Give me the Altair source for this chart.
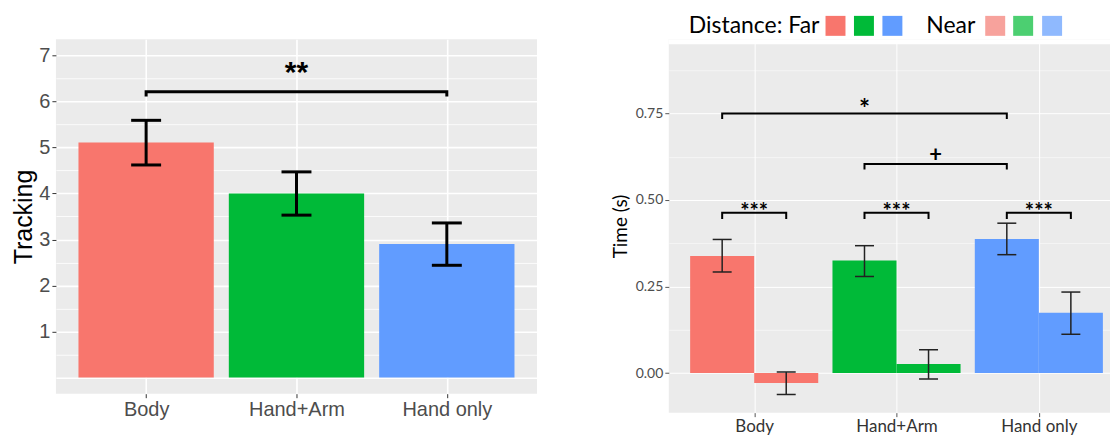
import json
import altair as alt
import pandas as pd

# ---------------- data ----------------
groups = ["Body", "Hand+Arm", "Hand only"]
far_colors = ["#F8766D", "#00BA38", "#619CFF"]
near_colors = ["#F7A29C", "#4CCF71", "#8FB9FE"]

# left panel: Tracking
track_mean = [5.11, 4.00, 2.90]
track_low = [4.62, 3.53, 2.44]
track_high = [5.59, 4.47, 3.36]

# right panel: Time (s)
time_far = [0.338, 0.325, 0.387]
time_far_low = [0.292, 0.279, 0.342]
time_far_high = [0.386, 0.368, 0.433]
time_near = [-0.029, 0.026, 0.174]
time_near_low = [-0.062, -0.017, 0.112]
time_near_high = [0.003, 0.067, 0.234]

# significance annotations
left_sig_from = ["Body"]
left_sig_to = ["Hand only"]
left_sig_y = [6.21]
left_sig_text = ["**"]

right_cross_from = ["Body", "Hand+Arm"]
right_cross_to = ["Hand only", "Hand only"]
right_cross_y = [0.75, 0.604]
right_cross_text = ["*", "+"]

right_within_y = [0.463, 0.463, 0.463]
right_within_text = ["***", "***", "***"]

legend_title = "Distance:"
legend_labels = ["Far", "Near"]

# ---------------- helpers ----------------
pos = {g: i + 1 for i, g in enumerate(groups)}
label_expr = json.dumps(groups) + "[datum.value - 1]"

LEFT_FONT = "Liberation Sans"
RIGHT_FONT = "Lato"

# ---------------- left chart ----------------
left_df = pd.DataFrame({
    "group": groups,
    "pos": [pos[g] for g in groups],
    "mean": track_mean,
    "low": track_low,
    "high": track_high,
})
left_df["x1"] = left_df["pos"] - 0.45
left_df["x2"] = left_df["pos"] + 0.45

lx_scale = alt.Scale(domain=[0.4, 3.6], nice=False, zero=False)
ly_scale = alt.Scale(domain=[-0.35, 7.35], nice=False, zero=False)

lx_axis = alt.Axis(values=[1, 2, 3], labelExpr=label_expr, title=None, grid=True,
                   gridColor="white", gridWidth=1.6, domain=False, tickSize=4,
                   tickColor="#333333", tickWidth=1, labelFont=LEFT_FONT,
                   labelFontSize=20, labelColor="#4D4D4D", labelPadding=2)
ly_axis = alt.Axis(values=[v * 0.5 for v in range(0, 15)],
                   labelExpr="(datum.value % 1 == 0 && datum.value > 0) ? format(datum.value, 'd') : ''",
                   title="Tracking", titleFont=LEFT_FONT, titleFontSize=25,
                   titleFontWeight="normal", titleColor="black", titlePadding=2,
                   grid=True, gridColor="white",
                   gridWidth=alt.condition("datum.value % 1 != 0", alt.value(0.8), alt.value(1.6)),
                   tickOpacity=alt.condition("datum.value % 1 != 0 || datum.value == 0", alt.value(0), alt.value(1)),
                   domain=False, tickSize=4, tickColor="#333333", tickWidth=1,
                   labelFont=LEFT_FONT, labelFontSize=20, labelColor="#4D4D4D",
                   labelPadding=2)

left_color = alt.Color("group:N", scale=alt.Scale(domain=groups, range=far_colors), legend=None)

left_bars = alt.Chart(left_df).mark_rect().encode(
    x=alt.X("x1:Q", scale=lx_scale, axis=lx_axis),
    x2="x2:Q",
    y=alt.Y("mean:Q", scale=ly_scale, axis=ly_axis),
    y2=alt.datum(0),
    color=left_color,
)
left_err = alt.Chart(left_df).mark_rule(color="black", strokeWidth=3).encode(
    x=alt.X("pos:Q", scale=lx_scale, axis=lx_axis),
    y=alt.Y("low:Q", scale=ly_scale, axis=ly_axis),
    y2="high:Q",
)
left_caps = alt.Chart(left_df).transform_fold(["low", "high"], as_=["k", "v"]).mark_tick(
    color="black", orient="horizontal", size=30, thickness=3, opacity=1
).encode(
    x=alt.X("pos:Q", scale=lx_scale, axis=lx_axis),
    y=alt.Y("v:Q", scale=ly_scale, axis=ly_axis),
)


def bracket_rows(starts, ends, ys, drop, offset_a=0.0, offset_b=0.0):
    rows = []
    for i, (a, b, y) in enumerate(zip(starts, ends, ys)):
        xa = pos[a] + offset_a
        xb = pos[b] + offset_b
        rows += [
            {"id": i, "o": 0, "x": xa, "y": y - drop},
            {"id": i, "o": 1, "x": xa, "y": y},
            {"id": i, "o": 2, "x": xb, "y": y},
            {"id": i, "o": 3, "x": xb, "y": y - drop},
        ]
    return pd.DataFrame(rows)


left_br_df = bracket_rows(left_sig_from, left_sig_to, left_sig_y, 0.1)
left_bracket = alt.Chart(left_br_df).mark_line(color="black", strokeWidth=3, strokeJoin="miter").encode(
    x=alt.X("x:Q", scale=lx_scale, axis=lx_axis),
    y=alt.Y("y:Q", scale=ly_scale, axis=ly_axis),
    detail="id:N",
    order="o:Q",
)
left_txt_df = pd.DataFrame({
    "x": [(pos[a] + pos[b]) / 2 for a, b in zip(left_sig_from, left_sig_to)],
    "y": left_sig_y,
    "t": left_sig_text,
})
left_text = alt.Chart(left_txt_df).mark_text(
    font=LEFT_FONT, fontSize=30, fontWeight="bold", color="black", baseline="alphabetic", dy=-10
).encode(
    x=alt.X("x:Q", scale=lx_scale, axis=lx_axis),
    y=alt.Y("y:Q", scale=ly_scale, axis=ly_axis),
    text="t:N",
)

left = alt.layer(left_bars, left_err, left_caps, left_bracket, left_text).properties(
    width=482, height=355
)

# ---------------- right chart ----------------
BW = 0.45
R_W, R_H, R_STRIP = 442, 374, 5
right_df = pd.DataFrame({
    "group": groups * 2,
    "dist": ["Far"] * 3 + ["Near"] * 3,
    "key": [g + "|Far" for g in groups] + [g + "|Near" for g in groups],
    "pos": [pos[g] for g in groups] * 2,
    "mean": time_far + time_near,
    "low": time_far_low + time_near_low,
    "high": time_far_high + time_near_high,
})
right_df["x1"] = right_df["pos"] + right_df["dist"].map({"Far": -BW, "Near": 0.0})
right_df["x2"] = right_df["x1"] + BW
right_df["xc"] = right_df["x1"] + BW / 2

rx_scale = alt.Scale(domain=[0.4, 3.5], nice=False, zero=False)
ry_scale = alt.Scale(domain=[-0.1145, 0.9643], nice=False, zero=False)

rx_axis = alt.Axis(values=[1, 2, 3], labelExpr=label_expr, title=None, grid=True,
                   gridColor="white", gridWidth=1, domain=False, tickSize=4,
                   tickColor="#555555", tickWidth=1, labelFont=RIGHT_FONT,
                   labelFontSize=17, labelColor="#333333", labelPadding=2)
ry_axis = alt.Axis(values=[v * 0.125 for v in range(0, 8)],
                   labelExpr="(datum.value % 0.25 == 0) ? format(datum.value, '.2f') : ''",
                   title="Time (s)", titleFont=RIGHT_FONT, titleFontSize=19,
                   titleFontWeight="normal", titleColor="black", titlePadding=5,
                   grid=True, gridColor="white",
                   gridWidth=alt.condition("datum.value % 0.25 != 0", alt.value(0.5), alt.value(1)),
                   tickOpacity=alt.condition("datum.value % 0.25 != 0", alt.value(0), alt.value(1)),
                   domain=False, tickSize=4, tickColor="#555555", tickWidth=1,
                   labelFont=RIGHT_FONT, labelFontSize=14, labelColor="#4D4D4D",
                   labelPadding=2)

right_color = alt.Color("key:N", scale=alt.Scale(
    domain=[g + "|Far" for g in groups] + [g + "|Near" for g in groups],
    range=far_colors + near_colors), legend=None)

one = alt.Data(values=[{"a": 1}])

# white strip above the panel (panel starts a few px lower than the left one)
strip = alt.Chart(one).mark_rect(color="white").encode(
    x=alt.value(0), x2=alt.value(R_W), y=alt.value(0), y2=alt.value(R_STRIP)
)

right_bars = alt.Chart(right_df).mark_rect().encode(
    x=alt.X("x1:Q", scale=rx_scale, axis=rx_axis),
    x2="x2:Q",
    y=alt.Y("mean:Q", scale=ry_scale, axis=ry_axis),
    y2=alt.datum(0),
    color=right_color,
)
right_err = alt.Chart(right_df).mark_rule(color="#222222", strokeWidth=1.5).encode(
    x=alt.X("xc:Q", scale=rx_scale, axis=rx_axis),
    y=alt.Y("low:Q", scale=ry_scale, axis=ry_axis),
    y2="high:Q",
)
right_caps = alt.Chart(right_df).transform_fold(["low", "high"], as_=["k", "v"]).mark_tick(
    color="#222222", orient="horizontal", size=19, thickness=1.5, opacity=1
).encode(
    x=alt.X("xc:Q", scale=rx_scale, axis=rx_axis),
    y=alt.Y("v:Q", scale=ry_scale, axis=ry_axis),
)

cross_df = bracket_rows(right_cross_from, right_cross_to, right_cross_y, 0.016, -BW / 2, -BW / 2)
within_df = bracket_rows(groups, groups, right_within_y, 0.018, -BW / 2, BW / 2)
within_df["id"] = within_df["id"] + 10
br_df = pd.concat([cross_df, within_df], ignore_index=True)
right_bracket = alt.Chart(br_df).mark_line(color="black", strokeWidth=2, strokeJoin="miter").encode(
    x=alt.X("x:Q", scale=rx_scale, axis=rx_axis),
    y=alt.Y("y:Q", scale=ry_scale, axis=ry_axis),
    detail="id:N",
    order="o:Q",
)

text_dy = {"*": 5, "+": -2, "***": 6}
text_size = {"*": 26, "+": 22, "***": 22}
text_layers = []
for a, b, y, t in zip(right_cross_from, right_cross_to, right_cross_y, right_cross_text):
    df = pd.DataFrame({"x": [(pos[a] + pos[b]) / 2 - BW / 2], "y": [y], "t": [t]})
    text_layers.append(alt.Chart(df).mark_text(
        font=RIGHT_FONT, fontSize=text_size[t], fontWeight="bold", color="black",
        baseline="alphabetic", dy=text_dy[t]
    ).encode(
        x=alt.X("x:Q", scale=rx_scale, axis=rx_axis),
        y=alt.Y("y:Q", scale=ry_scale, axis=ry_axis),
        text="t:N",
    ))
within_txt = pd.DataFrame({
    "x": [pos[g] for g in groups],
    "y": right_within_y,
    "t": right_within_text,
})
text_layers.append(alt.Chart(within_txt).mark_text(
    font=RIGHT_FONT, fontSize=text_size["***"], fontWeight="bold", color="black",
    baseline="alphabetic", dy=text_dy["***"]
).encode(
    x=alt.X("x:Q", scale=rx_scale, axis=rx_axis),
    y=alt.Y("y:Q", scale=ry_scale, axis=ry_axis),
    text="t:N",
))

# custom legend drawn above the panel
legend_layers = []
LEG_Y = -13.5
text_x = [20, 258]
swatch_x = [[167, 195.5, 224], [327, 355, 384]]
swatch_colors = [far_colors, near_colors]
for i, lab in enumerate(legend_labels):
    txt = (legend_title + " " + lab) if i == 0 else lab
    legend_layers.append(alt.Chart(one).mark_text(
        font=RIGHT_FONT, fontSize=23, color="black", align="left", baseline="middle"
    ).encode(x=alt.value(text_x[i]), y=alt.value(LEG_Y), text=alt.value(txt)))
    for sx, col in zip(swatch_x[i], swatch_colors[i]):
        legend_layers.append(alt.Chart(one).mark_square(
            size=400, color=col, opacity=1, filled=True
        ).encode(x=alt.value(sx), y=alt.value(LEG_Y)))

right = alt.layer(right_bars, strip, right_err, right_caps, right_bracket,
                  *text_layers, *legend_layers).properties(
    width=R_W, height=R_H
)

chart = alt.hconcat(left, right, spacing=74).properties(
    padding={"left": 3, "top": 6, "right": 0, "bottom": 0},
    background="white",
).configure_view(fill="#EBEBEB", stroke=None)

chart.save("out.html", embed_options={"renderer": "svg", "actions": False})
